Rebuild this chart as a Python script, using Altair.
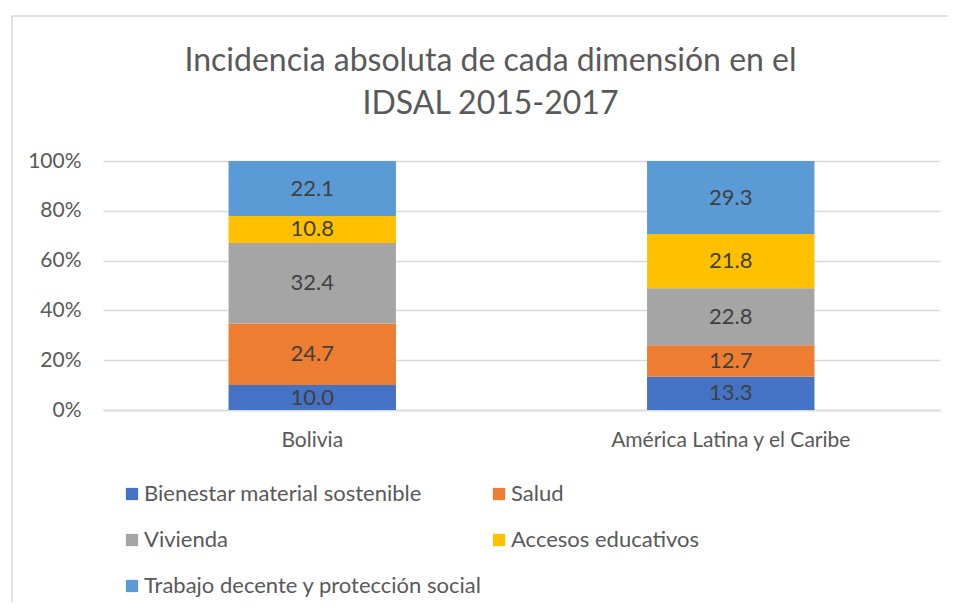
import altair as alt
import pandas as pd

countries = ["Bolivia", "América Latina y el Caribe"]
dimensions = [
    "Bienestar material sostenible",
    "Salud",
    "Vivienda",
    "Accesos educativos",
    "Trabajo decente y protección social",
]
colors = ["#4472C4", "#ED7D31", "#A5A5A5", "#FFC000", "#5B9BD5"]
bolivia = [10.0, 24.7, 32.4, 10.8, 22.1]
alc = [13.3, 12.7, 22.8, 21.8, 29.3]
y_ticks = [0, 0.2, 0.4, 0.6, 0.8, 1.0]

rows = []
for c, vals in zip(countries, [bolivia, alc]):
    for i, (d, v) in enumerate(zip(dimensions, vals)):
        rows.append({"country": c, "dim": d, "value": v, "ord": i})
df = pd.DataFrame(rows)

FONT = "Lato"
GREY = "#595959"

base = alt.Chart(df).transform_stack(
    stack="value", groupby=["country"], as_=["y0", "y1"],
    offset="normalize", sort=[alt.SortField("ord", order="ascending")]
).transform_calculate(mid="(datum.y0 + datum.y1) / 2")

x_enc = alt.X("country:N", sort=countries, title=None,
              scale=alt.Scale(paddingInner=0.6, paddingOuter=0.3),
              axis=alt.Axis(labelAngle=0, labelFontSize=21, labelColor=GREY,
                            labelFont=FONT, ticks=False, labelPadding=19,
                            labelLimit=500,
                            domainColor="#D9D9D9", domainWidth=1.5))

bars = base.mark_bar().encode(
    x=x_enc,
    y=alt.Y("y0:Q", title=None, scale=alt.Scale(domain=[0, 1]),
            axis=alt.Axis(values=y_ticks, format=".0%", labelFontSize=21,
                          labelColor=GREY, labelFont=FONT, domain=False,
                          ticks=False, labelPadding=22, gridColor="#D9D9D9",
                          gridWidth=1.5)),
    y2="y1:Q",
    color=alt.Color("dim:N", sort=dimensions,
                    scale=alt.Scale(domain=dimensions, range=colors),
                    legend=alt.Legend(
                        title=None, orient="none", legendX=18, legendY=322,
                        columns=2, direction="horizontal", gridAlign="all",
                        columnPadding=5,
                        rowPadding=24, symbolType="square", symbolSize=150,
                        symbolStrokeWidth=0, labelFontSize=22, labelColor=GREY,
                        labelFont=FONT, labelLimit=500, symbolOffset=0,
                        labelOffset=1)),
)

labels = base.mark_text(fontSize=22, color="#404040", font=FONT,
                        baseline="middle").encode(
    x=alt.X("country:N", sort=countries),
    y=alt.Y("mid:Q"),
    text=alt.Text("value:Q", format=".1f"),
)

frame = alt.Chart(pd.DataFrame({"a": [0]})).mark_rect(
    fill=None, stroke="#D9D9D9", strokeWidth=1.5
).encode(x=alt.value(-91), x2=alt.value(1000),
         y=alt.value(-145), y2=alt.value(600))

chart = alt.layer(frame, bars, labels).properties(
    width=837, height=249,
    title=alt.TitleParams(
        text=["Incidencia absoluta de cada dimensión en el", "IDSAL 2015-2017"],
        fontSize=32, font=FONT, fontWeight="normal", color=GREY,
        anchor="middle", frame="group", dx=-31, lineHeight=43, offset=0,
        baseline="alphabetic", dy=131),
    padding={"left": 95, "top": 153, "right": 8, "bottom": 192},
    autosize=alt.AutoSizeParams(type="none"),
).configure_view(stroke=None)

chart.save("out.html", embed_options={"renderer": "svg", "actions": False})
